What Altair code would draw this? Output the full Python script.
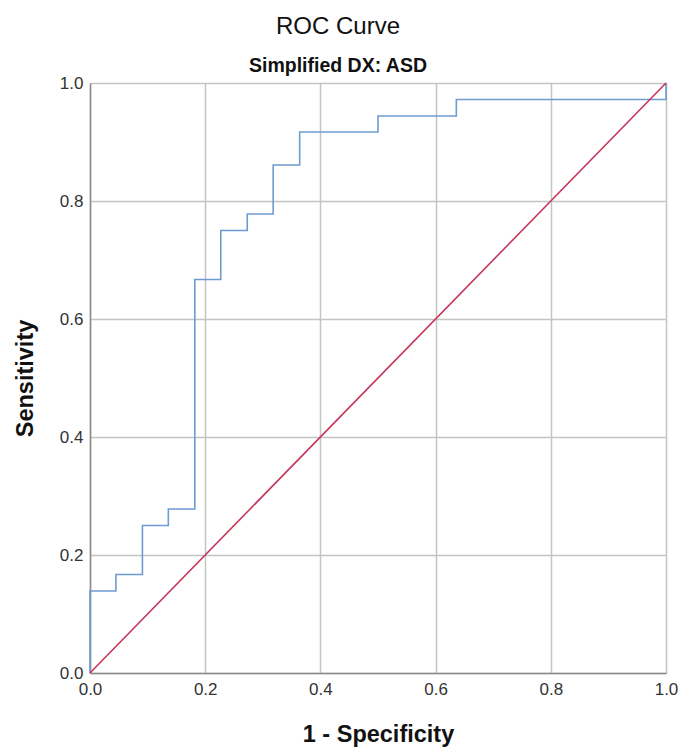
import altair as alt
import pandas as pd

# ROC curve corner points (1 - specificity, sensitivity)
fpr = [0.0, 0.0, 0.045, 0.091, 0.136, 0.182, 0.227, 0.273, 0.318, 0.364, 0.5, 0.636, 1.0]
tpr = [0.0, 0.139, 0.167, 0.25, 0.278, 0.667, 0.75, 0.778, 0.861, 0.917, 0.944, 0.972, 1.0]

# reference (chance) line
ref_x = [0.0, 1.0]
ref_y = [0.0, 1.0]

tick_values = [0.0, 0.2, 0.4, 0.6, 0.8, 1.0]

roc_df = pd.DataFrame({"fpr": fpr, "tpr": tpr, "order": list(range(len(fpr)))})
ref_df = pd.DataFrame({"fpr": ref_x, "tpr": ref_y, "order": [0, 1]})

FONT = "Liberation Sans"

common_axis = dict(
    values=tick_values,
    format=".1f",
    titleFontSize=23.5,
    titleFontWeight="bold",
    titleFont=FONT,
    titleColor="#111111",
    labelFont=FONT,
    labelFontSize=17,
    labelColor="#333333",
    ticks=False,
    domainColor="#8a8a8a",
    domainWidth=1.5,
    gridColor="#c4c4c4",
    gridWidth=1.5,
    labelFlush=False,
)

x_enc = alt.X(
    "fpr:Q",
    scale=alt.Scale(domain=[0, 1], nice=False),
    axis=alt.Axis(title="1 - Specificity", titlePadding=25, labelPadding=8, **common_axis),
)
y_enc = alt.Y(
    "tpr:Q",
    scale=alt.Scale(domain=[0, 1], nice=False),
    axis=alt.Axis(title="Sensitivity", titlePadding=22, labelPadding=7, **common_axis),
)

roc = alt.Chart(roc_df).mark_line(
    interpolate="step-after", color="#6f9bd1", strokeWidth=1.6
).encode(x=x_enc, y=y_enc, order="order:Q")

ref = alt.Chart(ref_df).mark_line(color="#c4375b", strokeWidth=1.6).encode(
    x="fpr:Q", y="tpr:Q", order="order:Q"
)

chart = (
    alt.layer(roc, ref)
    .properties(
        width=576,
        height=590,
        autosize="none",
        padding={"left": 82, "top": 75, "right": 14, "bottom": 75},
        title=alt.Title(
            "ROC Curve",
            subtitle="Simplified DX: ASD",
            font=FONT,
            fontSize=24,
            fontWeight="normal",
            color="#111111",
            subtitleFont=FONT,
            subtitleFontSize=19.5,
            subtitleFontWeight="bold",
            subtitleColor="#111111",
            subtitlePadding=18,
            anchor="middle",
            dx=-40,
            offset=-1,
        ),
    )
    .configure_view(stroke="#8a8a8a", strokeWidth=1.5)
    .configure(background="white")
)

chart.save("out.html", embed_options={"renderer": "svg", "actions": False})
